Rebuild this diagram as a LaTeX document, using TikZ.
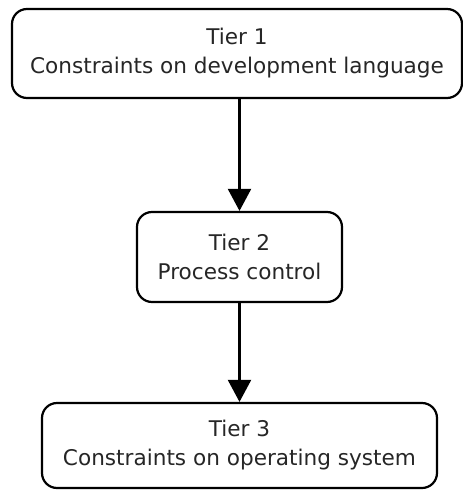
\documentclass[tikz,border=0pt]{standalone}
\usepackage{fontspec}
\setmainfont{DejaVu Sans}
\usetikzlibrary{arrows.meta}
\begin{document}
\begin{tikzpicture}[x=1pt,y=-1pt,
  tierbox/.style={draw=black, line width=2.2pt, rounded corners=15pt, fill=white, inner sep=0pt,
    align=center, font=\fontsize{21.6}{29}\selectfont, text=black!85},
  flow/.style={line width=2.2pt, -{Triangle[length=22pt,width=23pt]}}]
\useasboundingbox (0,0) rectangle (463,490);
\node[tierbox, minimum width=450pt, minimum height=89pt] (t1) at (237,53.5) {Tier 1\\Constraints on development language};
\node[tierbox, minimum width=205pt, minimum height=90pt] (t2) at (239.5,257) {Tier 2\\Process control};
\node[tierbox, minimum width=395pt, minimum height=85pt] (t3) at (239.5,445.5) {Tier 3\\Constraints on operating system};
\draw[flow] (t1.south -| t2.north) -- (t2.north);
\draw[flow] (t2.south) -- (t3.north);
\end{tikzpicture}
\end{document}
